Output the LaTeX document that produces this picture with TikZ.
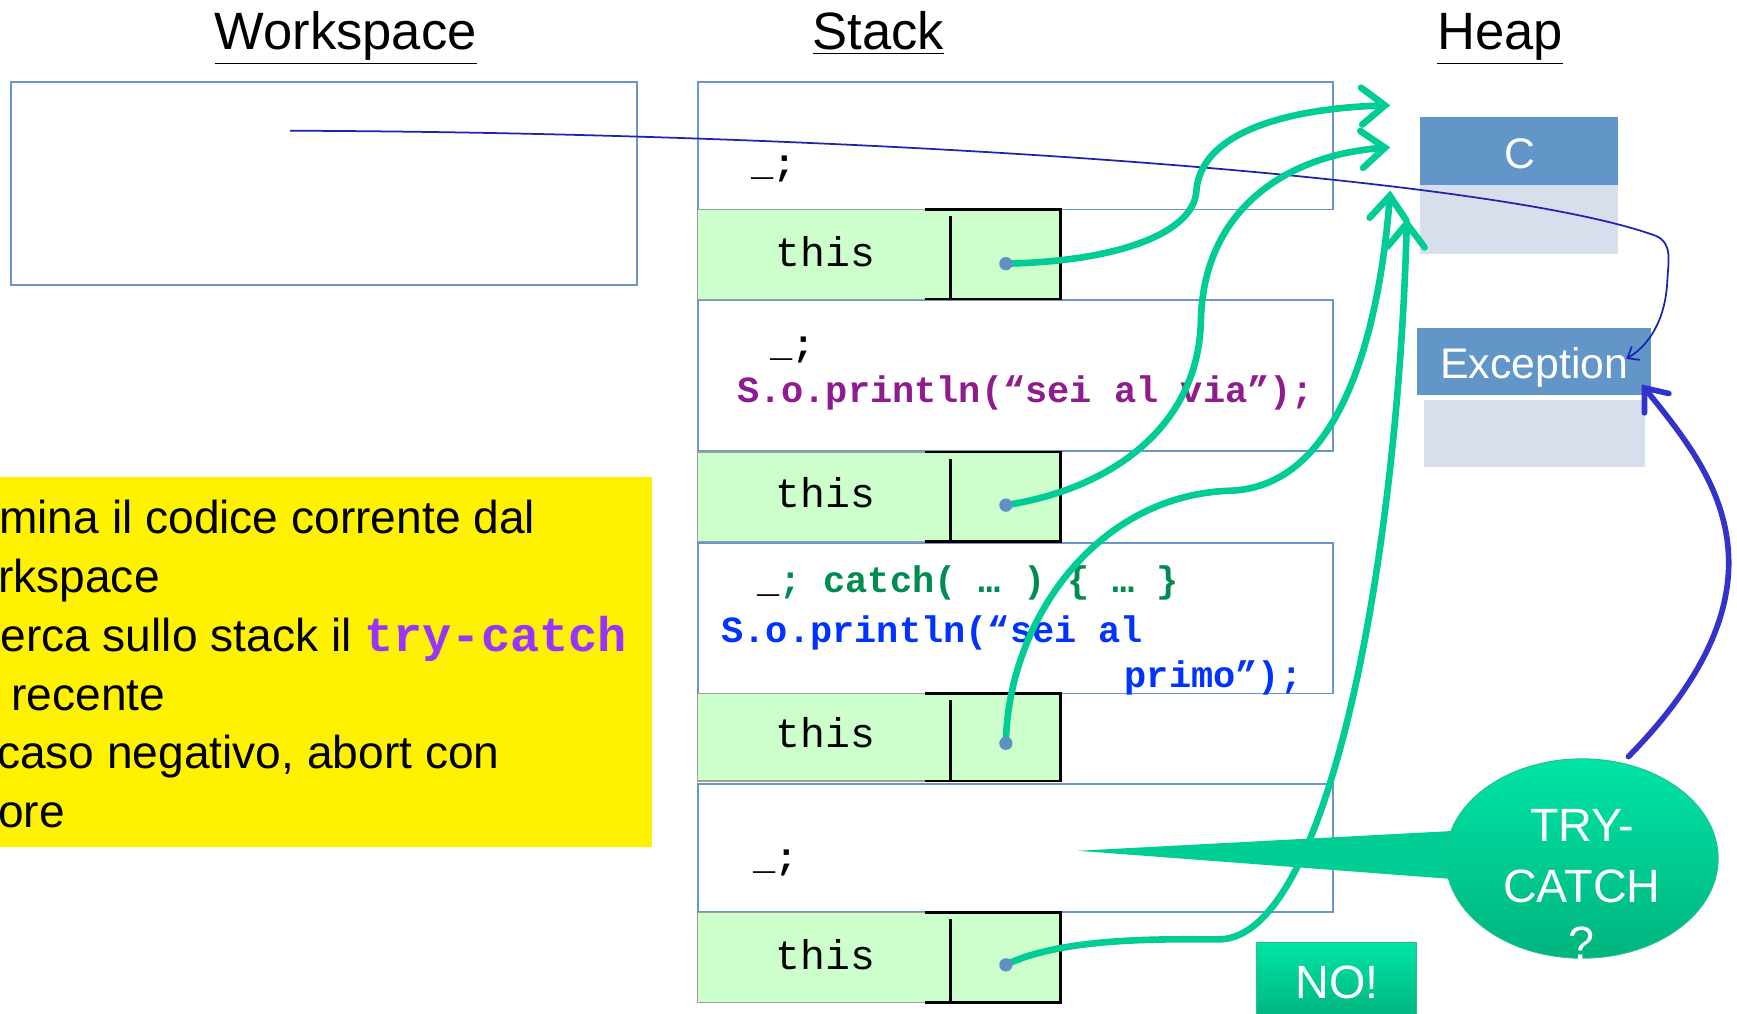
\documentclass[tikz,border=0pt]{standalone}
\usepackage{fontspec}
\setmainfont{Liberation Sans}
\setmonofont{Liberation Mono}
\usetikzlibrary{arrows.meta,fit,shapes.geometric}

\definecolor{framec}{RGB}{108,150,202}
\definecolor{thisfill}{RGB}{204,255,204}
\definecolor{ptrc}{RGB}{0,204,150}
\definecolor{dotc}{RGB}{96,144,196}
\definecolor{heaphead}{RGB}{98,149,200}
\definecolor{heapbody}{RGB}{215,223,236}
\definecolor{refblue}{RGB}{34,34,176}
\definecolor{boldblue}{RGB}{51,51,204}
\definecolor{codepurple}{RGB}{142,28,142}
\definecolor{codegreen}{RGB}{0,140,80}
\definecolor{codeblue}{RGB}{0,51,255}
\definecolor{kwpurple}{RGB}{153,51,255}
\definecolor{bubtop}{RGB}{0,228,166}
\definecolor{bubbot}{RGB}{0,180,126}
\definecolor{bubmid}{RGB}{0,206,148}

\newcommand{\titlefont}{\fontsize{27}{32}\selectfont}
\newcommand{\thisfont}{\ttfamily\fontsize{21.3}{25}\selectfont}
\newcommand{\codefont}{\ttfamily\bfseries\fontsize{19}{23}\selectfont}
\newcommand{\notefont}{\fontsize{23.7}{28}\selectfont}
\newcommand{\heapfont}{\fontsize{22}{26}\selectfont}
\newcommand{\bubfont}{\fontsize{24}{28}\selectfont}

\begin{document}
\begin{tikzpicture}[x=0.02cm,y=-0.02cm,
  txt/.style={inner sep=0pt},
  frame/.style={draw=framec, line width=0.85pt, fill=white, inner sep=0pt},
  thisbox/.style={draw=gray!75, line width=0.6pt, fill=thisfill, inner sep=0pt},
  thisedge/.style={draw=black, line width=1.4pt},
  heaphd/.style={fill=heaphead, inner sep=0pt},
  heapbd/.style={fill=heapbody, inner sep=0pt},
  ptr/.style={draw=ptrc, line width=3.4pt, line cap=round,
    -{Straight Barb[length=12pt,width=19pt,line cap=round]}},
  refthin/.style={draw=refblue, line width=0.9pt,
    -{Straight Barb[length=5pt,width=8pt]}},
  refbold/.style={draw=boldblue, line width=2.9pt, line cap=round,
    -{Straight Barb[length=10pt,width=16pt,line cap=round]}},
]
\useasboundingbox (0,0) rectangle (1568,915);

% column titles
\node[txt, anchor=base, font=\titlefont] (tws) at (312,45) {\underline{Workspace}};
\node[txt, anchor=base, font=\titlefont] (tst) at (793,45) {\underline{Stack}};
\node[txt, anchor=base, font=\titlefont] (thp) at (1354,45) {\underline{Heap}};

% workspace
\node[frame, fit={(10,74)(575,257)}] (ws) {};

% stack frames
\node[frame, fit={(630,74)(1203,189)}] (f1) {};
\node[frame, fit={(630,271)(1203,407)}] (f2) {};
\node[frame, fit={(630,490)(1203,626)}] (f3) {};
\node[frame, fit={(630,708)(1203,823)}] (f4) {};

% "this" slots
\foreach \n/\ya/\yb/\yt in {1/189/270/241, 2/408/489/458, 3/626/705/675, 4/824/905/875}{
  \node[thisbox, fit={(630,\ya)(957,\yb)}] (t\n) {};
  \draw[thisedge] (835,\ya) -- (957,\ya) -- (957,\yb) -- (835,\yb);
  \draw[black, line width=1.2pt] (858,\ya+6) -- (858,\yb);
  \node[txt, anchor=base, font=\thisfont] (tl\n) at (745,\yt) {this};
}

% frame contents
\node[txt, anchor=base west, font=\codefont] (c1) at (678,158) {\_;};
\node[txt, anchor=base west, font=\codefont] (c2a) at (695,322) {\_;};
\node[txt, anchor=base west, font=\codefont, text=codepurple] (c2b) at (665,363)
  {S.o.println(“sei al via”);};
\node[txt, anchor=base west, font=\codefont] (c3a) at (683,535)
  {\_\textcolor{codegreen}{; catch( … ) \{ … \}}};
\node[txt, anchor=base west, font=\codefont, text=codeblue] (c3b) at (651,580)
  {S.o.println(“sei al};
\node[txt, anchor=base west, font=\codefont, text=codeblue] (c3c) at (1015,621)
  {primo”);};
\node[txt, anchor=base west, font=\codefont] (c4) at (680,785) {\_;};

% heap objects
\node[heaphd, fit={(1282,106)(1461,167)}] (chd) {};
\node[heapbd, fit={(1282,167)(1461,229)}] (cbd) {};
\node[txt, anchor=base, font=\heapfont, text=white] (cname) at (1372,152) {C};
\node[heaphd, fit={(1279,296)(1490,357)}] (ehd) {};
\node[heapbd, fit={(1285,361)(1485,422)}] (ebd) {};
\node[txt, anchor=base, font=\heapfont, text=white] (ename) at (1385,342) {Exception};

% note
\node[fill=yellow, inner sep=0pt, fit={(0,431)(589,765)}] (note) {};
\begin{scope}
  \clip (0,431) rectangle (589,765);
  \node[txt, anchor=base west, font=\notefont] (n1) at (-1,482) {mina il codice corrente dal};
  \node[txt, anchor=base west, font=\notefont] (n2) at (-2,535) {rkspace};
  \node[txt, anchor=base west, font=\notefont] (n3) at (0,588)
    {erca sullo stack il \textcolor{kwpurple}{\ttfamily\bfseries\fontsize{25}{28}\selectfont try-catch}};
  \node[txt, anchor=base west, font=\notefont] (n4) at (10,641) {recente};
  \node[txt, anchor=base west, font=\notefont] (n5) at (-3,694) {caso negativo, abort con};
  \node[txt, anchor=base west, font=\notefont] (n6) at (-2,747) {ore};
\end{scope}

% workspace reference to the exception object
\coordinate (wsref) at (262,118);
\coordinate (exin) at (1468,324);
\draw[refthin] (wsref) .. controls (800,120) and (1350,160) .. (1495,213)
  .. controls (1510,220) and (1506,235) .. (1505,255)
  .. controls (1503,290) and (1488,312) .. (exin);

% "this" pointers to C
\foreach \n/\y in {1/238, 2/456, 3/671, 4/871}{
  \coordinate (d\n) at (908,\y);
}
\coordinate (ca) at (1255,95);
\coordinate (cb) at (1255,133);
\coordinate (cc) at (1255,172);
\coordinate (cd) at (1270,197);
\draw[ptr] (d1) .. controls (1010,236) and (1078,210) .. (1080,172)
  .. controls (1084,120) and (1160,98) .. (ca);
\draw[ptr] (d2) .. controls (1010,440) and (1082,380) .. (1084,290)
  .. controls (1086,190) and (1160,140) .. (cb);
\draw[ptr] (d3) .. controls (910,560) and (990,447) .. (1110,443)
  .. controls (1210,440) and (1245,300) .. (cc);
\draw[ptr] (d4) .. controls (960,845) and (1060,848) .. (1100,848)
  .. controls (1200,848) and (1262,500) .. (cd);
\foreach \n in {1,2,3,4}{
  \fill[dotc] (d\n) circle (6);
}

% speech bubble
\coordinate (tip) at (973,768);
\fill[bubmid] (1314,750) -- (tip) -- (1318,794) -- cycle;
\node[ellipse, top color=bubtop, bottom color=bubbot, draw=bubbot!85!white,
  line width=0.5pt, minimum width=4.92cm, minimum height=3.6cm, inner sep=0pt]
  (trycatch) at (1428,775) {};
\node[txt, anchor=base, font=\bubfont, text=white] (bt1) at (1428,760) {TRY-};
\node[txt, anchor=base, font=\bubfont, text=white] (bt2) at (1428,815) {CATCH};
\node[txt, anchor=base, font=\bubfont, text=white] (bt3) at (1428,866) {?};

% answer box
\node[top color=bubtop, bottom color=bubbot, draw=bubbot!85!white, line width=0.5pt,
  inner sep=0pt, fit={(1134,851)(1279,920)}] (nobox) {};
\node[txt, anchor=base, font=\bubfont, text=white] (nolbl) at (1207,901) {NO!};

% bubble points at the exception
\coordinate (tctop) at (1470,683);
\coordinate (exarr) at (1482,347);
\draw[refbold] (tctop) .. controls (1630,520) and (1540,420) .. (exarr);
\end{tikzpicture}
\end{document}
